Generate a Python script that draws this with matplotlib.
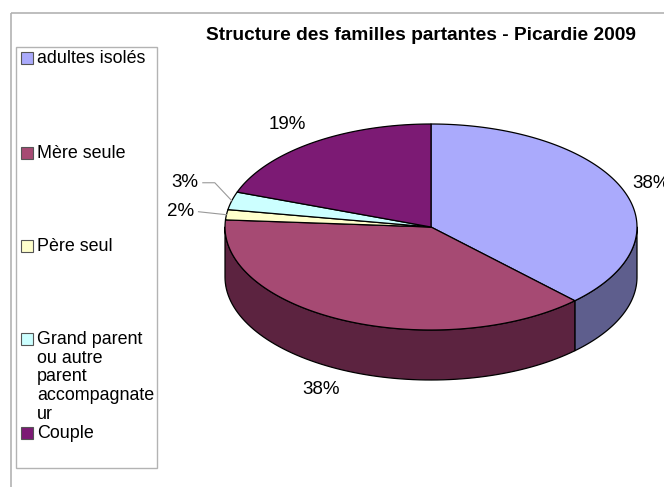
import numpy as np
import matplotlib
matplotlib.use("Agg")
import matplotlib.pyplot as plt
from matplotlib.patches import Polygon, Rectangle

plt.rcParams['font.family'] = ['Liberation Sans', 'DejaVu Sans']

title = "Structure des familles partantes - Picardie 2009"
categories = ["adultes isolés", "Mère seule", "Père seul",
              "Grand parent\nou autre\nparent\naccompagnate\nur", "Couple"]
values = [37.7, 38.4, 1.6, 2.8, 19.5]
labels = ["38%", "38%", "2%", "3%", "19%"]
top_colors = ["#aaaafc", "#a64a73", "#ffffcc", "#ccffff", "#7c1a74"]
side_colors = ["#5e5e8d", "#5c2340", "#8a8a6e", "#6e8a8a", "#42103e"]

W, H = 664, 487
fig = plt.figure(figsize=(W / 100, H / 100), dpi=100)
ax = fig.add_axes([0, 0, 1, 1])
ax.set_xlim(0, W)
ax.set_ylim(H, 0)
ax.axis('off')

# outer frame
ax.add_patch(Rectangle((11, 13), 700, 600, fill=False, ec="#b3b3b3", lw=1.2))

# pie geometry (pixel space)
cx, cy, rx, ry, depth = 431, 227, 206, 103, 50

def pt(t, dz=0):
    return cx + rx * np.cos(np.radians(t)), cy - ry * np.sin(np.radians(t)) + dz

vals = np.array(values, dtype=float)
fr = vals / vals.sum()
ends = 90 - np.cumsum(fr) * 360
starts = np.concatenate([[90], ends[:-1]])

# side walls (front half: angles between -180 and 0)
for i, (a, b) in enumerate(zip(starts, ends)):
    lo, hi = max(b, -180), min(a, 0)
    if lo < hi:
        ts = np.linspace(hi, lo, 80)
        topp = [pt(t) for t in ts]
        botp = [pt(t, depth) for t in ts[::-1]]
        ax.add_patch(Polygon(topp + botp, closed=True, fc=side_colors[i],
                             ec="black", lw=0.9, joinstyle='round'))

# top faces
for i, (a, b) in enumerate(zip(starts, ends)):
    ts = np.linspace(a, b, 120)
    poly = [(cx, cy)] + [pt(t) for t in ts]
    ax.add_patch(Polygon(poly, closed=True, fc=top_colors[i], ec="black",
                         lw=0.9, joinstyle='round'))

# percentage labels
for i, (a, b) in enumerate(zip(starts, ends)):
    m = (a + b) / 2
    c, s = np.cos(np.radians(m)), np.sin(np.radians(m))
    x0, y0 = pt(m, depth if s < 0 else 0)
    if fr[i] < 0.05:
        ex, ey = pt(m)
        if i == 2:
            tx, ty = ex - 28, ey - 3
            ax.plot([tx, ex], [ty, ey], color="#999999", lw=0.8)
        else:
            tx, ty = ex - 29, ey - 18
            ax.plot([tx, tx + 12, ex], [ty, ty, ey], color="#999999", lw=0.8)
        ax.text(tx - 4, ty, labels[i], ha='right', va='center', fontsize=13.5)
        continue
    x = x0 + 11 * c
    y = y0 - 12 * s
    ha = 'left' if c > 0.3 else ('right' if c < -0.3 else 'center')
    va = 'bottom' if s > 0.6 else ('top' if s < -0.6 else 'center')
    ax.text(x, y, labels[i], ha=ha, va=va, fontsize=13.5, clip_on=False)

# title
ax.text(421, 36, title, ha='center', va='center', fontsize=13.8, fontweight='bold')

# legend
ax.add_patch(Rectangle((16, 47), 141, 421, fill=False, ec="#b3b3b3", lw=1.0))
leg_y = [52, 147, 240, 333, 427]
for i, cat in enumerate(categories):
    ax.add_patch(Rectangle((21, leg_y[i]), 12, 12, fc=top_colors[i], ec="#555555", lw=0.8))
    ax.text(37, leg_y[i] - 2, cat, ha='left', va='top', fontsize=12.9,
            linespacing=1.13)

fig.savefig("out.png", dpi=100)
